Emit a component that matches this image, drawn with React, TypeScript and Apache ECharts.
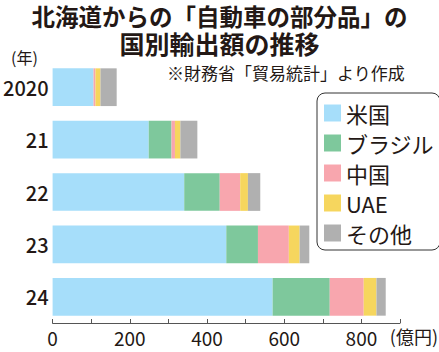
import React, { useEffect, useRef } from "react";
import * as echarts from "echarts";

const years = ["2020", "21", "22", "23", "24"];
const usa = [106, 249, 341, 450, 570];
const brazil = [0, 59, 92, 82, 148];
const china = [5, 9, 53, 80, 88];
const uae = [13, 14, 20, 28, 33];
const others = [42, 44, 32, 25, 24];
const seriesNames = ["米国", "ブラジル", "中国", "UAE", "その他"];
const colors = ["#a6defa", "#7ec89c", "#f8a6ae", "#f6d65e", "#b0b0b0"];
const xTicks = [0, 200, 400, 600, 800];

const FONT = '"Noto Sans CJK JP", "Noto Sans", sans-serif';
const INK = "#231815";

export default function App() {
  const ref = useRef<HTMLDivElement>(null);
  useEffect(() => {
    if (!ref.current) return;
    const chart = echarts.init(ref.current, undefined, { renderer: "svg" });
    const values = [usa, brazil, china, uae, others];
    chart.setOption({
      animation: false,
      textStyle: { fontFamily: FONT, color: INK },
      grid: { left: 48, right: 39, top: 61, bottom: 29, containLabel: false },
      xAxis: {
        type: "value",
        min: 0,
        max: 900,
        interval: 100,
        splitLine: { show: false },
        axisLine: { show: true, lineStyle: { color: "#555", width: 1 } },
        axisTick: { show: true, inside: true, length: 4, lineStyle: { color: "#555" } },
        axisLabel: {
          fontSize: 19,
          color: INK,
          fontFamily: FONT,
          margin: 5,
          formatter: (v: number) => (xTicks.indexOf(v) >= 0 ? String(v) : ""),
        },
      },
      yAxis: {
        type: "category",
        data: years,
        inverse: true,
        axisLine: { show: false },
        axisTick: { show: false },
        axisLabel: { fontSize: 20, color: INK, fontFamily: FONT, margin: 4, fontWeight: 500 },
      },
      legend: {
        orient: "vertical",
        left: 317,
        top: 93,
        padding: [9, 6, 6, 7],
        itemWidth: 17,
        itemHeight: 17,
        itemGap: 8,
        icon: "rect",
        backgroundColor: "#fff",
        borderColor: "#333",
        borderWidth: 1,
        borderRadius: 8,
        textStyle: { fontSize: 22, color: INK, fontFamily: FONT },
        data: seriesNames,
      },
      series: seriesNames.map((name, i) => ({
        name,
        type: "bar",
        stack: "total",
        barWidth: "72%",
        data: values[i],
        itemStyle: { color: colors[i] },
      })),
      graphic: [
        {
          type: "text",
          left: "center",
          top: 3,
          style: { text: "北海道からの「自動車の部分品」の", fontSize: 23.5, lineHeight: 26, fontWeight: "bold", fill: INK, fontFamily: FONT },
        },
        {
          type: "text",
          left: "center",
          top: 30,
          style: { text: "国別輸出額の推移", fontSize: 25, lineHeight: 26, fontWeight: "bold", fill: INK, fontFamily: FONT },
        },
        {
          type: "text",
          left: 167,
          top: 64,
          style: { text: "※財務省「貿易統計」より作成", fontSize: 17, fill: INK, fontFamily: FONT },
        },
        {
          type: "text",
          left: 11,
          top: 49,
          style: { text: "(年)", fontSize: 16, fill: INK, fontFamily: FONT },
        },
        {
          type: "text",
          right: 1,
          top: 327,
          style: { text: "(億円)", fontSize: 18, fill: INK, fontFamily: FONT },
        },
      ],
    });
    return () => chart.dispose();
  }, []);
  return <div ref={ref} style={{ width: 439, height: 352, position: "absolute", left: 0, top: 0 }} />;
}
